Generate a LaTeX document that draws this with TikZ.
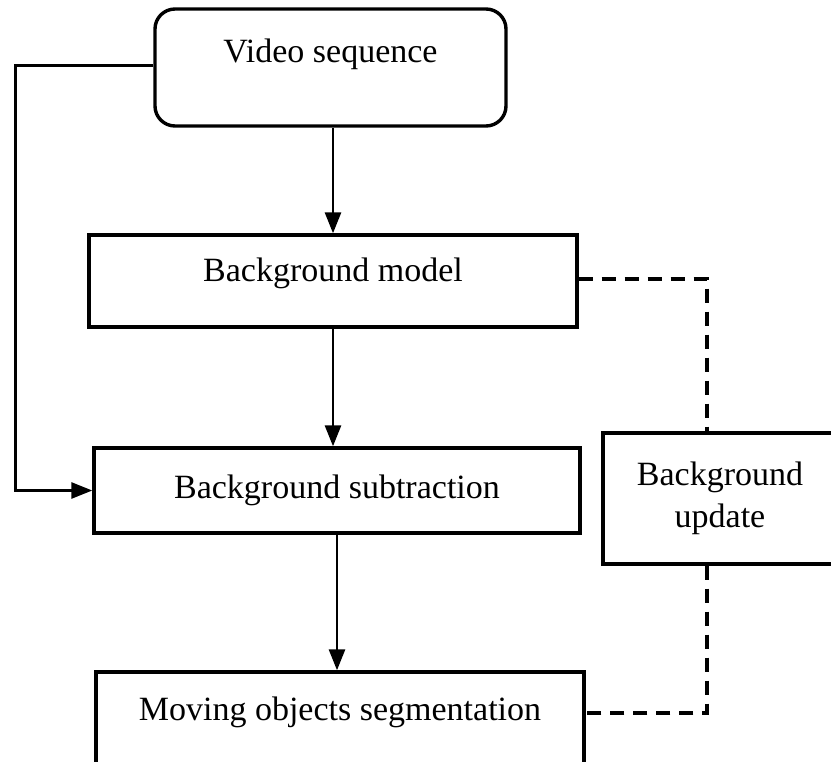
\documentclass[tikz,border=0pt]{standalone}
\usepackage{fontspec}
\setmainfont{Liberation Serif}
\usepackage{tikz}
\usetikzlibrary{arrows.meta}
\usetikzlibrary{calc}

\begin{document}
\begin{tikzpicture}[x=1pt, y=-1pt, line width=3.4pt,
        box_style/.style={rectangle,draw=black,fill=white,font=\fontsize{34}{42}\selectfont,text height=23pt},
        edge_style/.style={draw=black, line width=2.8pt, -{Triangle[length=21pt,width=16pt]}},
        update_edge_style/.style={draw=black, line width=3.2pt, dash pattern=on 14pt off 9pt}]

        \path [use as bounding box, fill=white] (0,0) rectangle (831,762);
        \clip (0,0) rectangle (831,762);

        \node [box_style,rounded corners=20pt,minimum width=351pt,minimum height=117pt,text depth=33pt](video) at (330.5,67.5) {Video sequence};

        \node [box_style,minimum width=488pt,minimum height=92pt,text depth=21pt](model) at (333,281) {Background model};

        \node [box_style,minimum width=486pt,minimum height=85pt,text depth=7pt](sub) at (337,490.5) {Background subtraction};

        \node [box_style,minimum width=234pt,minimum height=131pt,align=center,text height=,text depth=](update) at (720,498.5) {Background\\update};

        \node [box_style,minimum width=488pt,minimum height=98pt,text depth=25pt](moving) at (340,721) {Moving objects segmentation};

        \draw [edge_style] (video.south -| model.north) -- (model.north);

        \draw [edge_style] (model.south) -- (model.south |- sub.north);

        \draw [edge_style] (sub.south) -- (sub.south |- moving.north);

        \draw [edge_style] ([yshift=2pt]video.west) -- ++(-138,0) |- (sub.west);

        \draw [update_edge_style] ([yshift=2pt]model.east) -| ([xshift=-13pt]update.north);

        \draw [update_edge_style] ([xshift=-13pt]update.south) |- ([yshift=8pt]moving.east);

        \end{tikzpicture}
\end{document}
